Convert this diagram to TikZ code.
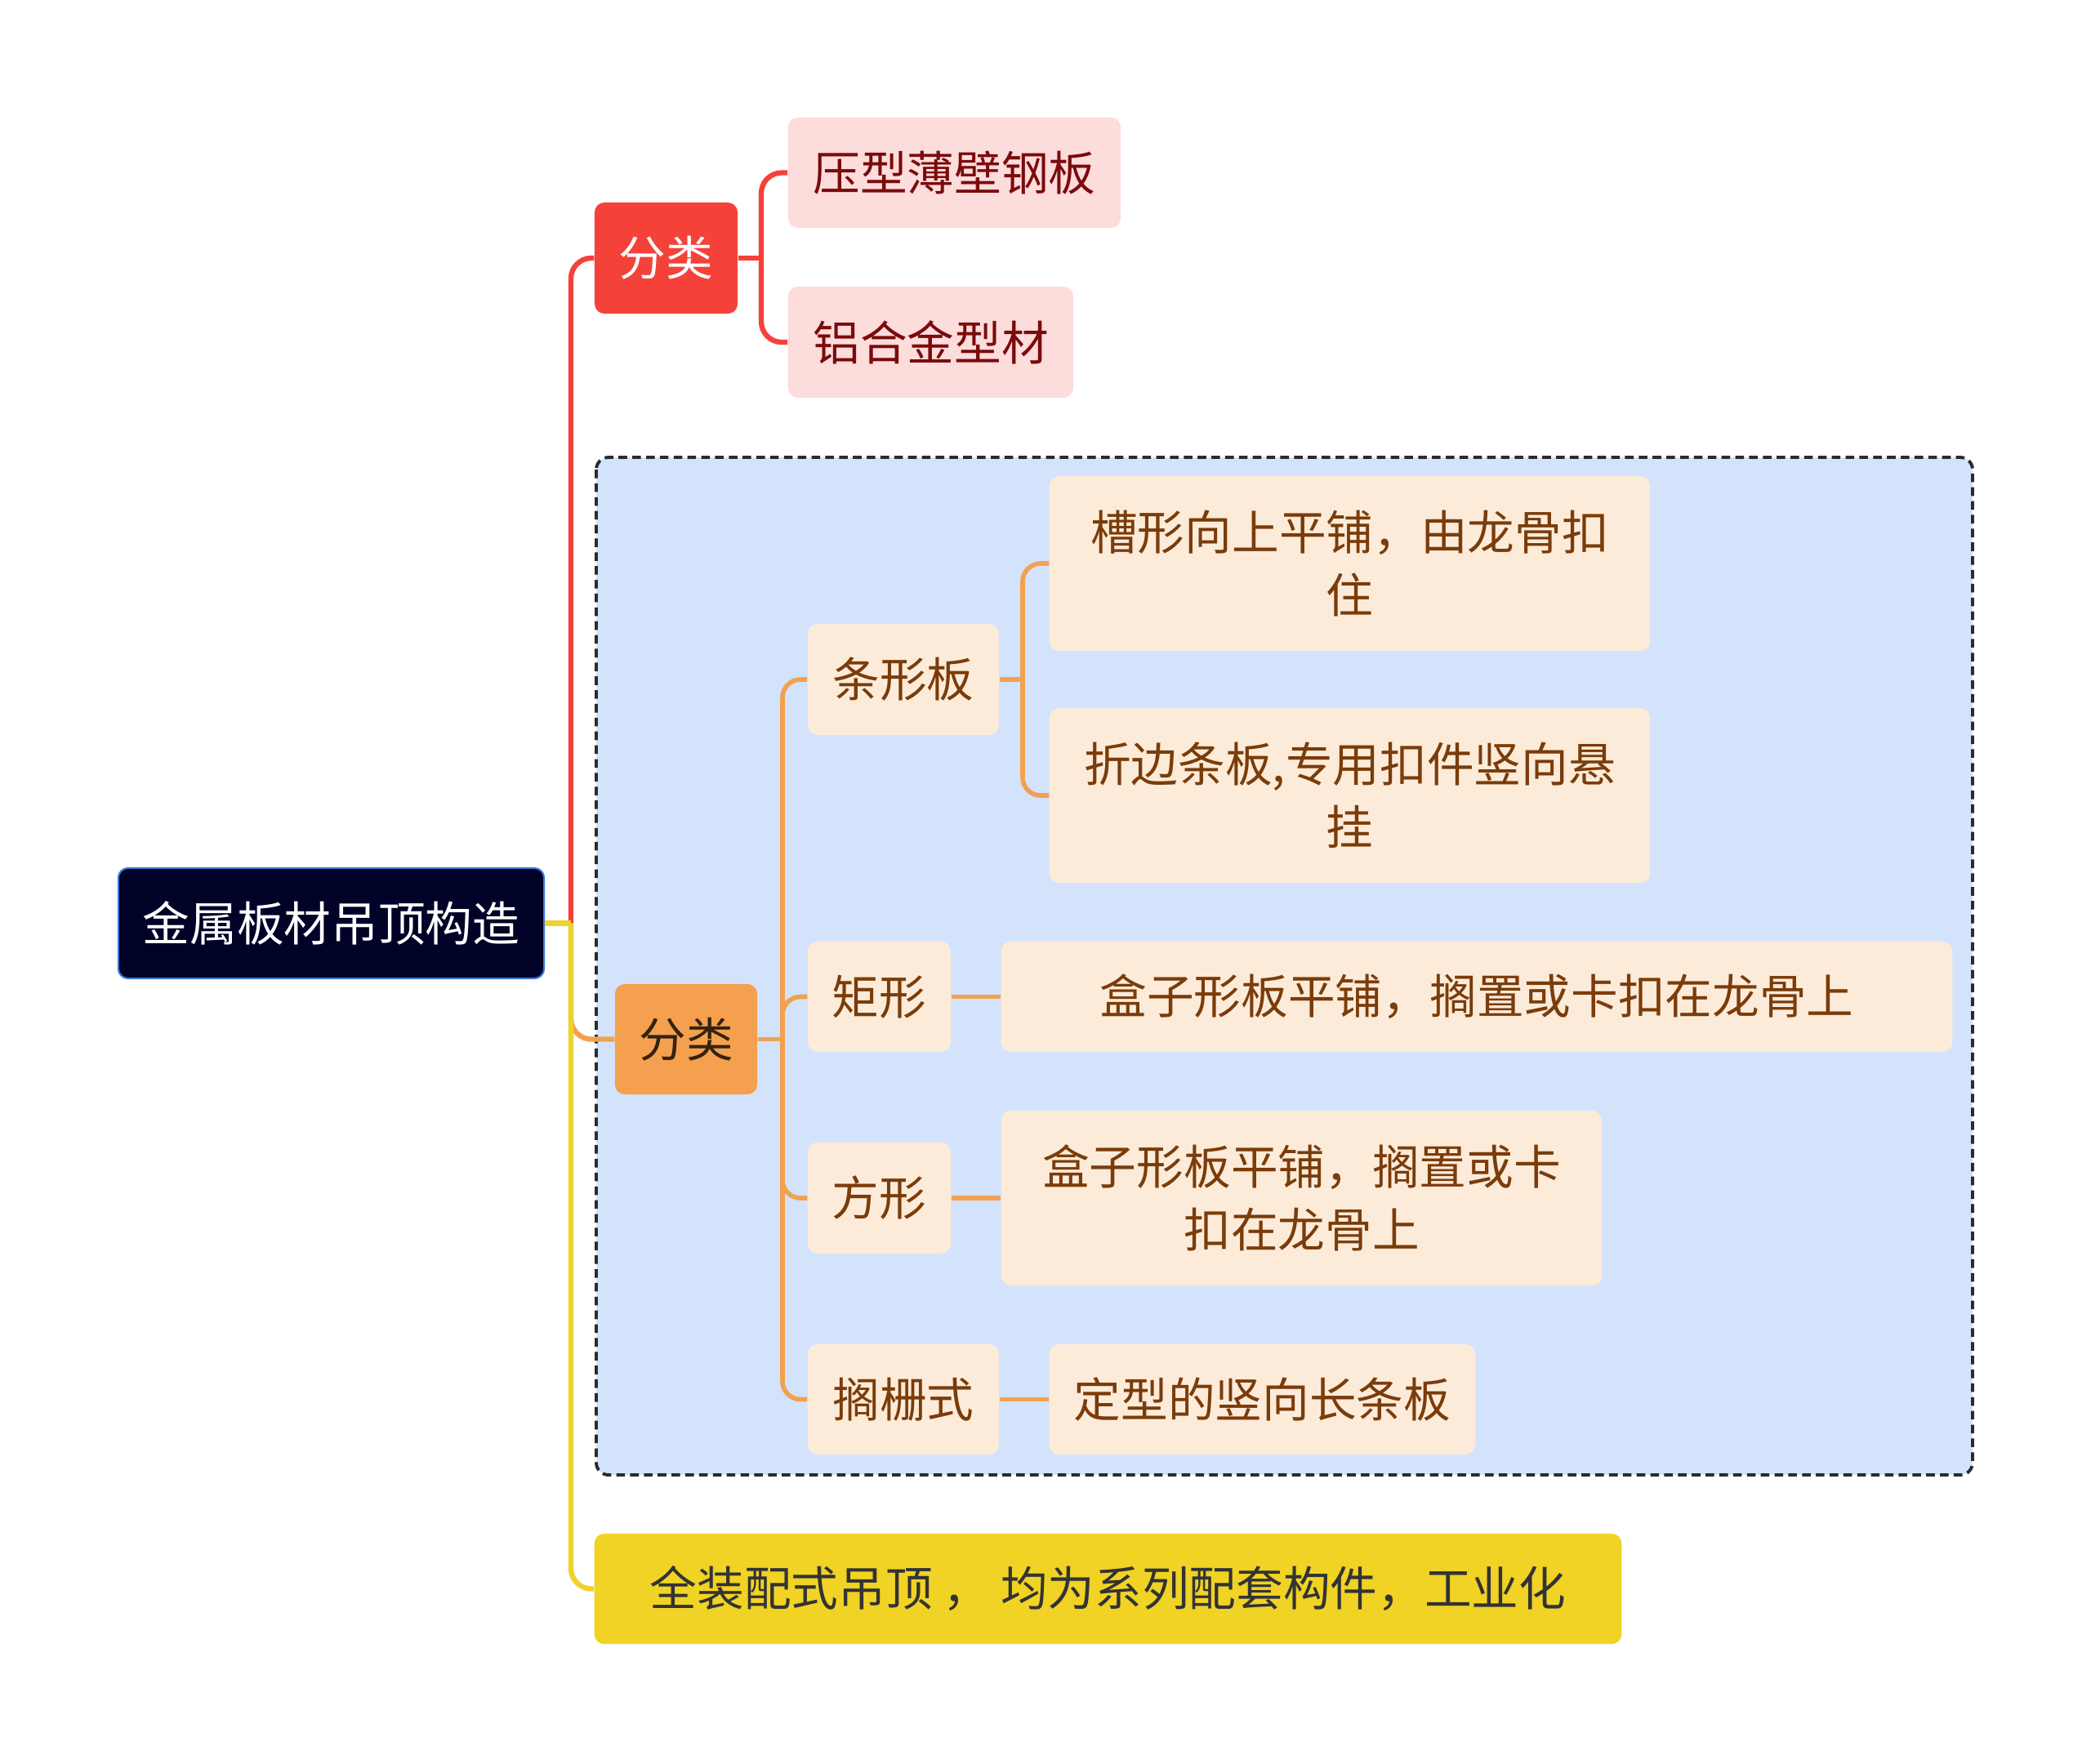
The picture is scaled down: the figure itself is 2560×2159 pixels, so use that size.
\documentclass[tikz,border=0pt]{standalone}
\usepackage{fontspec}
\newfontfamily\cjk{Noto Sans CJK SC}

\definecolor{rootfill}{HTML}{000228}
\definecolor{rootline}{HTML}{3B78D8}
\definecolor{redmain}{HTML}{F4423A}
\definecolor{pinkfill}{HTML}{FDDCDC}
\definecolor{pinktext}{HTML}{7B0B0B}
\definecolor{framefill}{HTML}{D3E3FC}
\definecolor{frameline}{HTML}{2B2B2B}
\definecolor{orangemain}{HTML}{F5A04E}
\definecolor{orangeline}{HTML}{F2A150}
\definecolor{orangetext}{HTML}{33230F}
\definecolor{creamfill}{HTML}{FDEBD9}
\definecolor{creamtext}{HTML}{7A3C0A}
\definecolor{yellowmain}{HTML}{F0D324}
\definecolor{yellowline}{HTML}{EFD32A}
\definecolor{yellowtext}{HTML}{333333}

\begin{document}
\begin{tikzpicture}[x=0.01cm, y=-0.01cm,
  box/.style={rounded corners=0.12cm, align=center, inner sep=0pt,
    font=\cjk\fontsize{16.4}{21.8}\selectfont},
  rootbox/.style={box, fill=rootfill, draw=rootline, line width=0.6pt, text=white},
  redbox/.style={box, fill=redmain, text=white},
  pinkbox/.style={box, fill=pinkfill, text=pinktext},
  orangebox/.style={box, fill=orangemain, text=orangetext},
  creambox/.style={box, fill=creamfill, text=creamtext},
  yellowbox/.style={box, fill=yellowmain, text=yellowtext},
  link/.style={line width=1.8pt, rounded corners=0.25cm},
  sublink/.style={line width=1.6pt, rounded corners=0.22cm, draw=orangeline},
  frame/.style={fill=framefill, draw=frameline, line width=1.1pt,
    dash pattern=on 3pt off 1.8pt, rounded corners=0.15cm},
]
  \fill[white] (0,0) rectangle (2560,2159);
  \useasboundingbox (0,0) rectangle (2560,2159);

  % dashed group behind the second branch
  \draw[frame] (730,560) rectangle (2415,1806);

  % root
  \node[rootbox, minimum width=5.21cm, minimum height=1.35cm] (root) at (405.5,1130.5) {金属板材吊顶构造};

  % first branch
  \node[redbox, minimum width=1.75cm, minimum height=1.36cm] (cls1) at (815.5,316) {分类};
  \node[pinkbox, minimum width=4.07cm, minimum height=1.35cm] (steel) at (1168.5,211.5) {压型薄壁钢板};
  \node[pinkbox, minimum width=3.49cm, minimum height=1.36cm] (alu) at (1139.5,419) {铝合金型材};

  % second branch
  \node[orangebox, minimum width=1.74cm, minimum height=1.35cm] (cls2) at (840,1272.5) {分类};
  \node[creambox, minimum width=2.34cm, minimum height=1.36cm] (strip) at (1106,832) {条形板};
  \node[creambox, minimum width=7.35cm, minimum height=2.14cm] (stripA) at (1652.5,690) {槽形向上平铺，由龙骨扣\\住};
  \node[creambox, minimum width=7.35cm, minimum height=2.14cm] (stripB) at (1652.5,974) {折边条板,专用扣件竖向悬\\挂};
  \node[creambox, minimum width=1.75cm, minimum height=1.35cm] (rect) at (1076.5,1220.5) {矩形};
  \node[creambox, minimum width=11.64cm, minimum height=1.35cm] (rectA) at (1808,1220.5) {盒子形板平铺，搁置或卡扣在龙骨上};
  \node[creambox, minimum width=1.75cm, minimum height=1.36cm] (square) at (1076.5,1467) {方形};
  \node[creambox, minimum width=7.35cm, minimum height=2.14cm] (squareA) at (1593.5,1467) {盒子形板平铺，搁置或卡\\扣在龙骨上};
  \node[creambox, minimum width=2.34cm, minimum height=1.35cm] (grid) at (1106,1713.5) {搁栅式};
  \node[creambox, minimum width=5.21cm, minimum height=1.35cm] (gridA) at (1545.5,1713.5) {定型的竖向长条板};

  % third branch
  \node[yellowbox, minimum width=12.57cm, minimum height=1.35cm] (whole) at (1356.5,1945.5) {全装配式吊顶 ， 均为系列配套构件，工业化};

  % junctions
  \coordinate (j0) at (699,1130.5);
  \coordinate (j1) at (932,316);
  \coordinate (j2) at (958,1272.5);
  \coordinate (j3) at (1252,832);

  % trunk
  \draw[link, draw=redmain] (j0) |- (cls1.west);
  \draw[link, draw=orangeline] (j0) |- (cls2.west);
  \draw[link, draw=yellowline] (j0) |- (whole.west);
  \draw[link, draw=yellowline] (root.east) -- (j0);

  \draw[link, draw=redmain] (cls1.east) -- (j1);
  \draw[link, draw=redmain] (j1) |- (steel.west);
  \draw[link, draw=redmain] (j1) |- (alu.west);

  \draw[sublink] (cls2.east) -- (j2);
  \draw[sublink] (j2) |- (strip.west);
  \draw[sublink] (j2) |- (rect.west);
  \draw[sublink] (j2) |- (square.west);
  \draw[sublink] (j2) |- (grid.west);

  \draw[sublink] (strip.east) -- (j3);
  \draw[sublink] (j3) |- (stripA.west);
  \draw[sublink] (j3) |- (stripB.west);
  \draw[sublink] (rect) -- (rectA);
  \draw[sublink] (square) -- (squareA);
  \draw[sublink] (grid) -- (gridA);
\end{tikzpicture}
\end{document}
